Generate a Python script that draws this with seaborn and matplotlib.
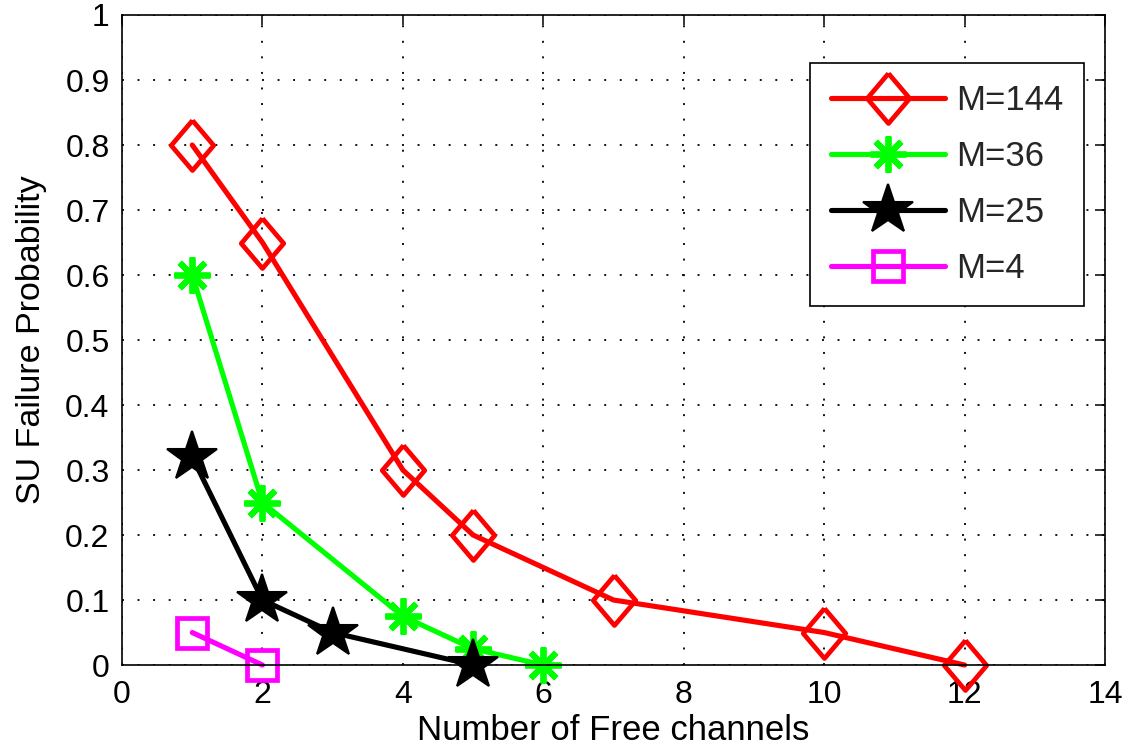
import matplotlib
matplotlib.use("Agg")
import matplotlib.pyplot as plt
import seaborn as sns
import pandas as pd

# Data
x_m144 = [1, 2, 4, 5, 7, 10, 12]
y_m144 = [0.8, 0.65, 0.3, 0.2, 0.1, 0.05, 0.0]
x_m36 = [1, 2, 4, 5, 6]
y_m36 = [0.6, 0.25, 0.075, 0.025, 0.0]
x_m25 = [1, 2, 3, 5]
y_m25 = [0.32, 0.1, 0.05, 0.0]
x_m4 = [1, 2]
y_m4 = [0.05, 0.0]
labels = ["M=144", "M=36", "M=25", "M=4"]
xticks = [0, 2, 4, 6, 8, 10, 12, 14]
yticks = [0, 0.1, 0.2, 0.3, 0.4, 0.5, 0.6, 0.7, 0.8, 0.9, 1]
yticklabels = ["0", "0.1", "0.2", "0.3", "0.4", "0.5", "0.6", "0.7", "0.8", "0.9", "1"]

sns.set_theme(style="white")
plt.rcParams['font.family'] = ['Liberation Sans', 'DejaVu Sans']

fig = plt.figure(figsize=(11.33, 7.5), dpi=100)
ax = fig.add_axes([0.1077, 0.1133, 0.8676, 0.8667])

tall_diamond = [(0, 1), (0.85, 0), (0, -1), (-0.85, 0), (0, 1)]
styles = [
    dict(color="#ff0000", marker=tall_diamond, markersize=36, mfc="none", mec="#ff0000", mew=3.4),
    dict(color="#00ff00", marker=(8, 2, 0), markersize=26, mfc="#00ff00", mec="#00ff00", mew=4.2),
    dict(color="#000000", marker="*", markersize=38, mfc="#000000", mec="#000000", mew=1.5),
    dict(color="#ff00ff", marker="s", markersize=21, mfc="none", mec="#ff00ff", mew=3.4),
]
series = [(x_m144, y_m144), (x_m36, y_m36), (x_m25, y_m25), (x_m4, y_m4)]

for (xs, ys), lab, st in zip(series, labels, styles):
    df = pd.DataFrame({"x": xs, "y": ys})
    sns.lineplot(data=df, x="x", y="y", ax=ax, label=lab, linewidth=3.7,
                 estimator=None, sort=False, clip_on=False, **st)

ax.set_xlim(0, 14)
ax.set_ylim(0, 1)
ax.set_xticks(xticks)
ax.set_yticks(yticks)
ax.set_xticklabels([str(t) for t in xticks])
ax.set_yticklabels(yticklabels)
ax.grid(True, linestyle=(0, (1, 7)), color="#111111", linewidth=1.4)
ax.tick_params(direction="in", length=7, width=1.1, top=True, right=True,
               labelsize=23, pad=9, colors="black")
ax.tick_params(axis="x", pad=11)
for s in ax.spines.values():
    s.set_color("black")
    s.set_linewidth(1.2)
ax.set_xlabel("Number of Free channels", fontsize=25, color="black", labelpad=3)
ax.set_ylabel("SU Failure Probability", fontsize=24.5, color="black", labelpad=13)

leg = ax.legend(loc="upper right", bbox_to_anchor=(0.9786, 0.926), fontsize=25,
                frameon=True, fancybox=False, edgecolor="black", framealpha=1,
                handlelength=3.3, handletextpad=0.3, labelspacing=0.66,
                borderpad=0.6, borderaxespad=0)
leg.get_frame().set_linewidth(1.2)

fig.savefig("out.png", dpi=100)
